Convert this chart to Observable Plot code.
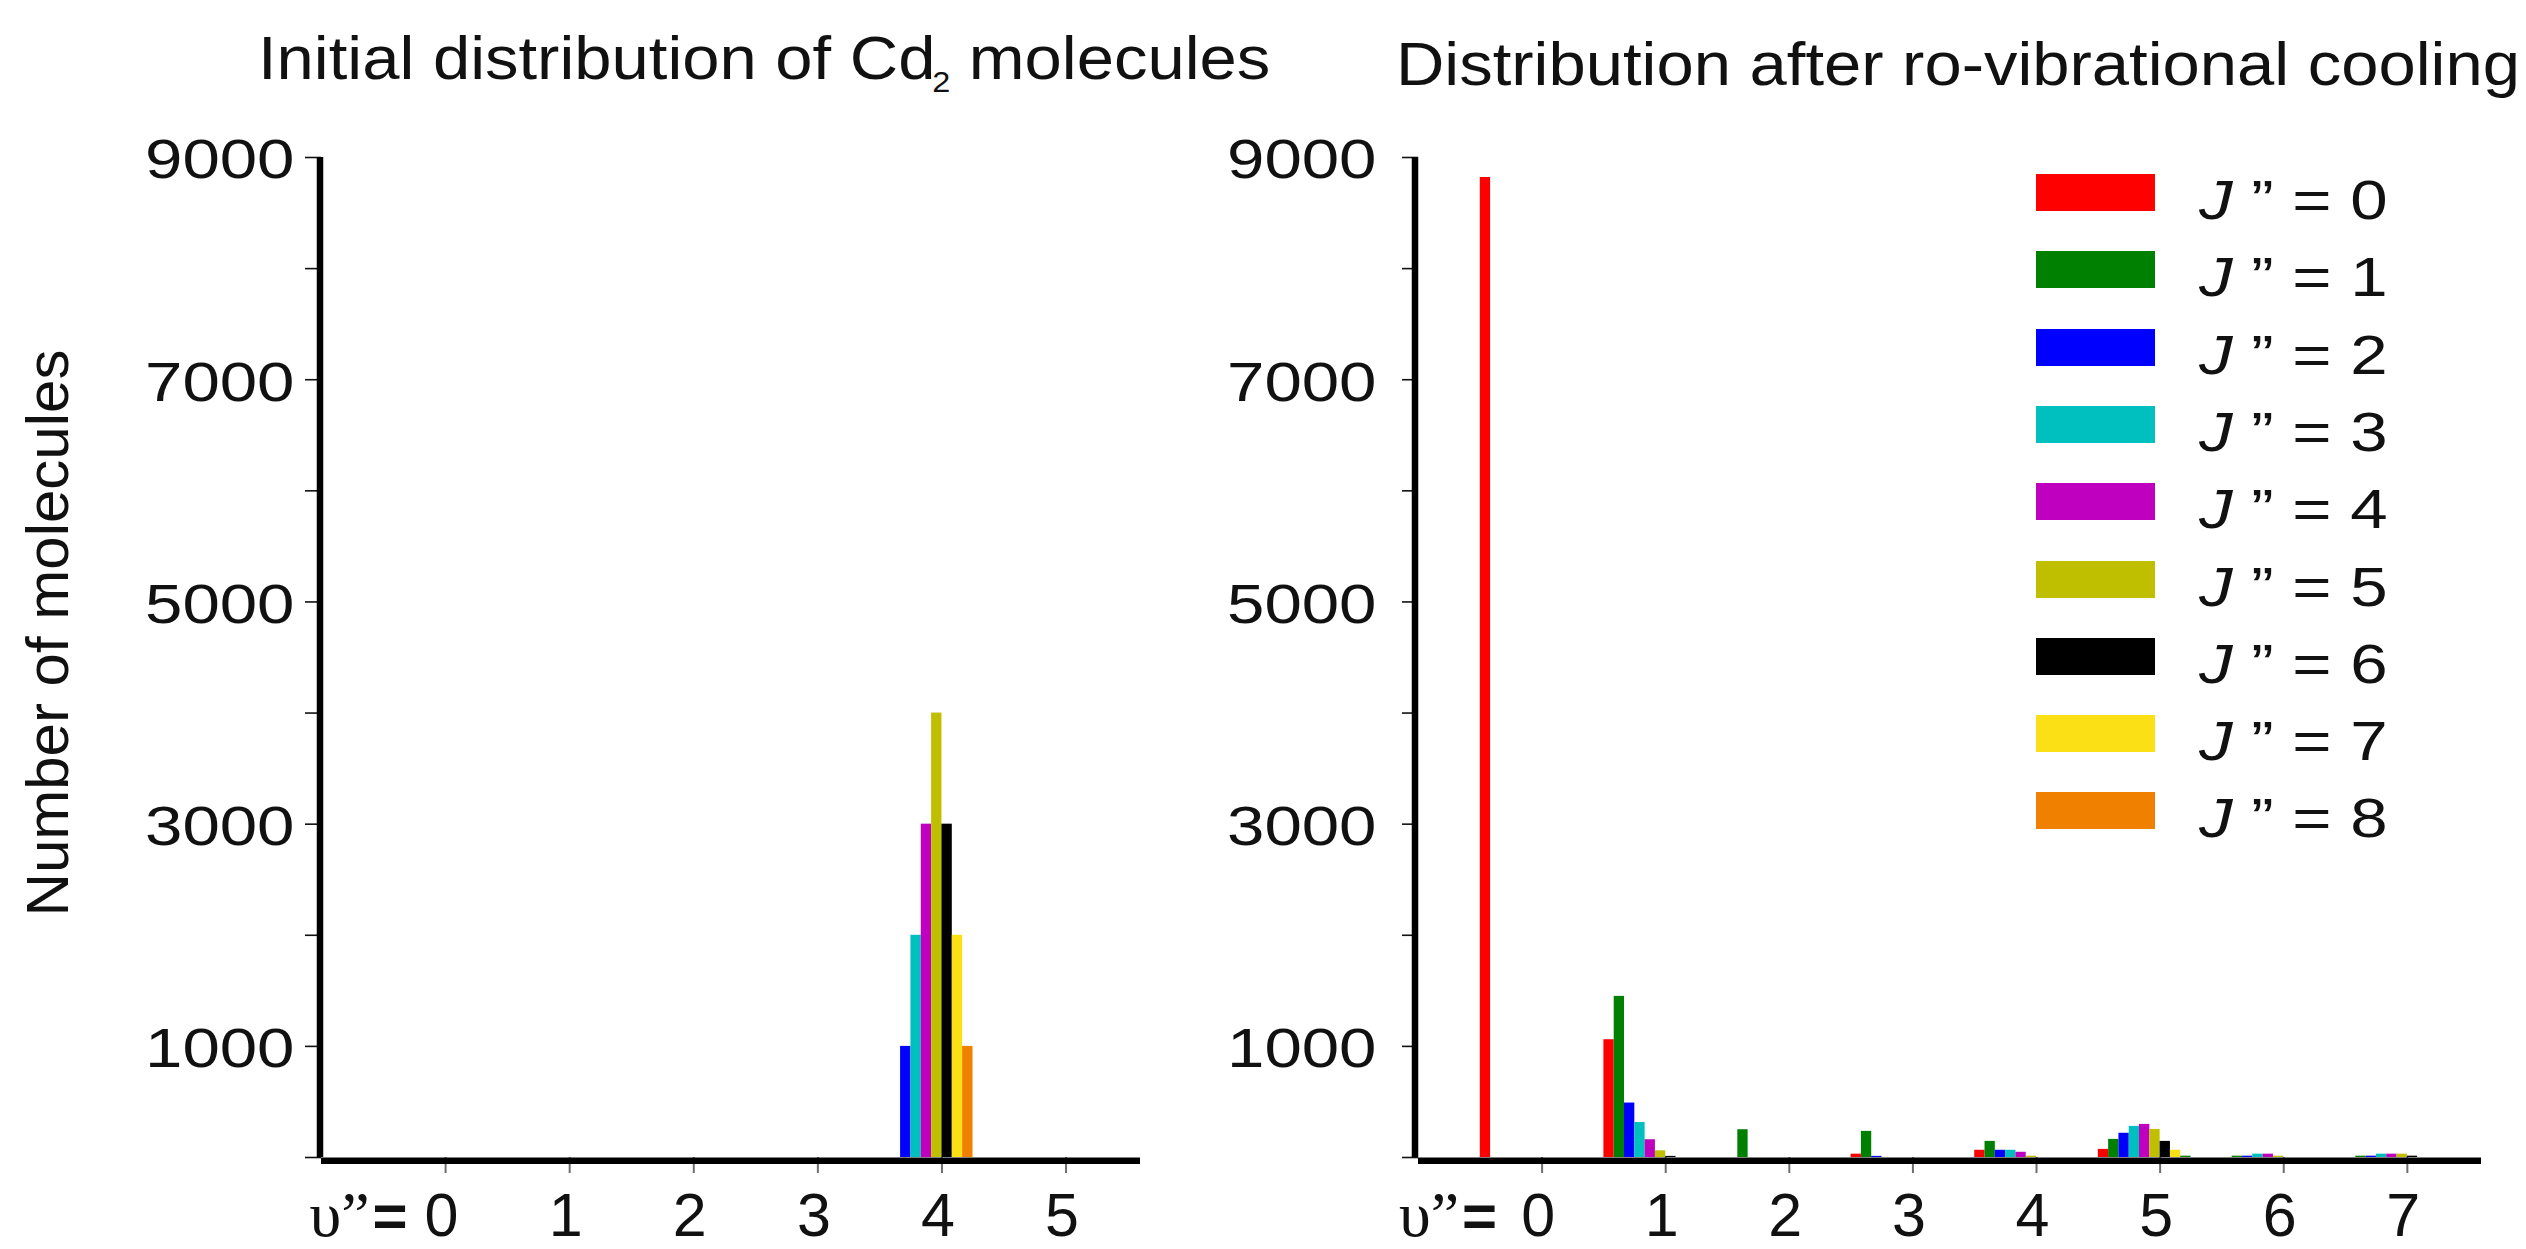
<!DOCTYPE html>
<html>
<head>
<meta charset="utf-8">
<script src="https://cdn.jsdelivr.net/npm/d3@7"></script>
<script src="https://cdn.jsdelivr.net/npm/@observablehq/plot@0.6"></script>
<style>
  html, body { margin: 0; padding: 0; background: #fff; }
  #page { position: relative; width: 2526px; height: 1249px; overflow: hidden; background: #fff;
          font-family: "Liberation Sans", Arial, sans-serif; color: #111; }
  .title { position: absolute; white-space: nowrap; font-size: 62px; line-height: 62px; transform-origin: 0 0; }
  .sub { font-size: 30px; position: relative; top: 13px; margin-left: -3px; }
  .ylab { position: absolute; white-space: nowrap; font-size: 60px; line-height: 60px;
          transform: translate(-50%, -50%) rotate(-90deg); }
  .chart { position: absolute; top: 100px; }
  .sw { position: absolute; width: 119px; height: 37px; }
  .lt { position: absolute; white-space: nowrap; font-size: 56px; line-height: 56px; transform-origin: 0 0; transform: scaleX(1.2); }
</style>
</head>
<body>
<div id="page"></div>
<script>
// ---------------- data ----------------
const J = [0, 1, 2, 3, 4, 5, 6, 7, 8];              // rotational levels J''
const vInitial = [0, 1, 2, 3, 4, 5];                // vibrational levels, left panel
const vCooled = [0, 1, 2, 3, 4, 5, 6, 7];           // vibrational levels, right panel

// rows: υ'' ; columns: J'' = 0..8
const initialCounts = [
  [0, 0, 0, 0, 0, 0, 0, 0, 0],
  [0, 0, 0, 0, 0, 0, 0, 0, 0],
  [0, 0, 0, 0, 0, 0, 0, 0, 0],
  [0, 0, 0, 0, 0, 0, 0, 0, 0],
  [0, 0, 1000, 2000, 3000, 4000, 3000, 2000, 1000],
  [0, 0, 0, 0, 0, 0, 0, 0, 0]
];
const cooledCounts = [
  [8820, 0, 0, 0, 0, 0, 0, 0, 0],
  [1060, 1450, 490, 315, 160, 60, 10, 0, 0],
  [0, 250, 0, 0, 0, 0, 0, 0, 0],
  [30, 235, 10, 0, 0, 0, 0, 0, 0],
  [65, 145, 65, 65, 47, 12, 0, 0, 0],
  [73, 163, 218, 280, 298, 253, 145, 65, 12],
  [0, 12, 12, 30, 30, 12, 0, 0, 0],
  [0, 12, 12, 30, 30, 30, 12, 0, 0]
];

const yTicks = [0, 1000, 2000, 3000, 4000, 5000, 6000, 7000, 8000, 9000];
const yLabels = [1000, 3000, 5000, 7000, 9000];
const legendLabels = J.map(j => j);

const palette = ["#ff0000", "#008000", "#0000ff", "#00bfbf", "#bf00bf", "#bfbf00", "#000000", "#fae014", "#f08000"];
const cooledPalette = ["#ff0000", "#008000", "#0000ff", "#00bfbf", "#bf00bf", "#bfbf00", "#000000", "#fae014", "#008000"];

const titleLeft = "Initial distribution of Cd";
const titleLeftSub = "2";
const titleLeftEnd = " molecules";
const titleRight = "Distribution after ro-vibrational cooling";
const yTitle = "Number of molecules";

// ---------------- drawing ----------------
const page = d3.select("#page");

function panel({vs, counts, colors, domain, width, marginLeft, marginRight, yPad, yLineDx, upsDx, eqDx}) {
  const data = vs.flatMap((v, i) => J.map(j => ({v, j, n: counts[i][j]}))).filter(d => d.n > 0);
  return Plot.plot({
    width, height: 1149,
    marginTop: 57, marginBottom: 92, marginLeft, marginRight,
    style: {background: "transparent", overflow: "visible", maxWidth: "none",
            fontFamily: "'Liberation Sans', Arial, sans-serif", color: "#111"},
    x: {type: "linear", domain, label: null},
    y: {domain: [0, 9000], label: null},
    color: {type: "ordinal", domain: J, range: colors},
    marks: [
      // x ticks (grey, under the axis line)
      Plot.axisX({ticks: vs, tickSize: 16, stroke: "#6e6e6e", strokeWidth: 2, fill: "none", label: null}),
      // x tick labels
      Plot.axisX({ticks: vs, tickSize: 16, tickPadding: 19, stroke: "none", fill: "#111",
                  fontSize: 61, dx: -4, tickFormat: d => String(d), label: null}),
      // y ticks
      Plot.axisY({ticks: yTicks, tickSize: 16, stroke: "#111", strokeWidth: 1.6, fill: "none", label: null}),
      // y tick labels
      Plot.axisY({ticks: yLabels, tickSize: 16, tickPadding: yPad, stroke: "none", fill: "#111",
                  fontSize: 56, dy: 3, tickFormat: d => String(d), label: null}),
      // bars
      Plot.rect(data, {
        x1: d => d.v + (d.j - 6) / 12,
        x2: d => d.v + (d.j - 5) / 12,
        y1: 0, y2: "n", fill: "j", inset: 0
      }),
      // axis lines
      Plot.ruleX([domain[0]], {y1: 0, y2: 9000, stroke: "#000", strokeWidth: 6.5, dx: yLineDx}),
      Plot.ruleY([0], {x1: domain[0], x2: domain[1], stroke: "#000", strokeWidth: 6.5, dy: 3.25}),
      // "υ”=" before the first tick label
      Plot.text([vs[0]], {x: d => d, frameAnchor: "bottom", lineAnchor: "bottom", dy: 78, dx: upsDx,
                          text: () => "υ”", textAnchor: "end", fontSize: 64, fontFamily: "'Liberation Serif', serif", fill: "#111"}),
      Plot.text([vs[0]], {x: d => d, frameAnchor: "bottom", lineAnchor: "bottom", dy: 78, dx: eqDx,
                          text: () => "=", textAnchor: "end", fontSize: 60, fontWeight: "bold", fill: "#111"})
    ]
  });
}

function widenYLabels(svg) {
  d3.select(svg).selectAll('[aria-label="y-axis tick label"] text').each(function () {
    const t = this.getAttribute("transform");
    if (t) this.setAttribute("transform", t + " scale(1.2,1)");
    else {
      const x = +this.getAttribute("x") || 0, y = +this.getAttribute("y") || 0;
      this.setAttribute("transform", `translate(${x},${y}) scale(1.2,1) translate(${-x},${-y})`);
    }
  });
}

const left = panel({vs: vInitial, counts: initialCounts, colors: palette, domain: [-1, 5.6],
                    width: 1263, marginLeft: 321, marginRight: 123, yPad: 11, yLineDx: -1.5, upsDx: -76, eqDx: -38});
const right = panel({vs: vCooled, counts: cooledCounts, colors: cooledPalette, domain: [-1, 7.6],
                     width: 1263, marginLeft: 155, marginRight: 45, yPad: 26, yLineDx: -3.5, upsDx: -83, eqDx: -45});
widenYLabels(left); widenYLabels(right);

page.append(() => left).attr("class", "chart").style("left", "0px");
page.append(() => right).attr("class", "chart").style("left", "1263px");

// titles
const tl = page.append("div").attr("class", "title").style("left", "258px").style("top", "27px").style("transform", "scaleX(1.08)");
tl.append("span").text(titleLeft);
tl.append("span").attr("class", "sub").text(titleLeftSub);
tl.append("span").text(titleLeftEnd);
page.append("div").attr("class", "title").style("left", "1396px").style("top", "33px").style("transform", "scaleX(1.08)").text(titleRight);

// y-axis title
page.append("div").attr("class", "ylab").style("left", "48px").style("top", "633px").text(yTitle);

// legend
legendLabels.forEach((j, k) => {
  const top = 174 + 77.3 * k;
  page.append("div").attr("class", "sw").style("left", "2036px").style("top", top + "px").style("background", palette[k]);
  const t = page.append("div").attr("class", "lt").style("left", "2199px").style("top", (top + 19 + 26 - 47) + "px");
  t.append("i").text("J");
  t.append("span").text(" ” = " + j);
});
</script>
</body>
</html>
